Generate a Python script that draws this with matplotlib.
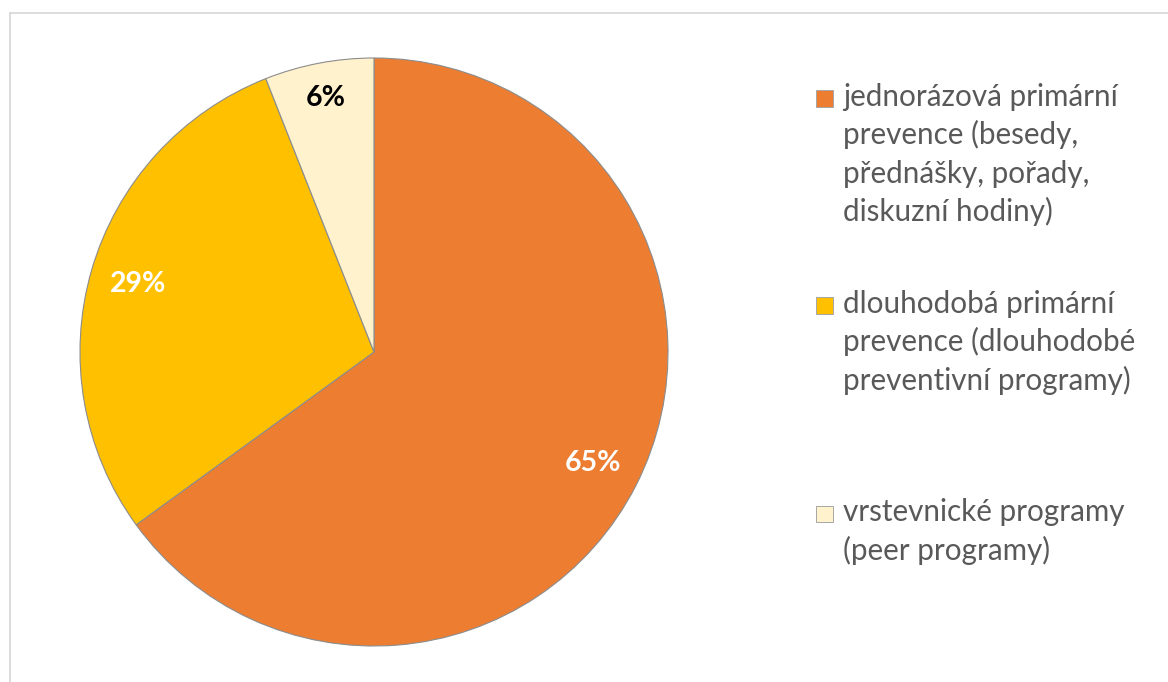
## pie chart of prevention program types, share in percent

import matplotlib
matplotlib.use("Agg")
from matplotlib import pyplot as plt
from matplotlib.patches import Rectangle
from matplotlib.lines import Line2D

## data
labels = ["jednorázová primární\nprevence (besedy,\npřednášky, pořady,\ndiskuzní hodiny)",
          "dlouhodobá primární\nprevence (dlouhodobé\npreventivní programy)",
          "vrstevnické programy\n(peer programy)"]
values = [65, 29, 6]
colors = ["#ED7D31", "#FFC000", "#FFF2CC"]
pct_colors = ["white", "white", "black"]

W, H = 1168, 682
plt.rcParams['font.family'] = ['Lato', 'DejaVu Sans']

fig = plt.figure(figsize=(W / 100, H / 100), dpi=100)

## light grey chart frame (top and left edges visible)
fig.add_artist(Line2D([9.5 / W, 9.5 / W], [0, 1 - 12.5 / H], transform=fig.transFigure,
                      color="#D9D9D9", lw=1.3))
fig.add_artist(Line2D([9.5 / W, 1], [1 - 12.5 / H, 1 - 12.5 / H], transform=fig.transFigure,
                      color="#D9D9D9", lw=1.3))

## pie: centre (374, 352) px, radius 294 px
cx, cy, r = 374, 352, 294
ax = fig.add_axes([(cx - r) / W, 1 - (cy + r) / H, 2 * r / W, 2 * r / H])
wedges, texts, autotexts = ax.pie(values, colors=colors, startangle=90, counterclock=False,
                                  autopct="%d%%", pctdistance=0.835,
                                  wedgeprops=dict(edgecolor="#8C8C8C", linewidth=0.8))
for t, c in zip(autotexts, pct_colors):
    t.set_color(c)
    t.set_fontsize(20.5)
    t.set_fontweight("bold")
## small slice label sits a bit further out
x, y = autotexts[2].get_position()
autotexts[2].set_position((x * 0.88 / 0.835, y * 0.88 / 0.835))
ax.set_xlim(-1, 1)
ax.set_ylim(-1, 1)
ax.set_aspect("equal")

## legend drawn by hand (uneven spacing in the original)
baselines = [106, 313, 521.5]
step = 38.3
for lab, col, b in zip(labels, colors, baselines):
    fig.add_artist(Rectangle((816 / W, 1 - (b + 0.5) / H), 16.5 / W, 16.5 / H,
                             transform=fig.transFigure, facecolor=col,
                             edgecolor="#A6A6A6", linewidth=0.7))
    for i, line in enumerate(lab.split("\n")):
        fig.text(843 / W, 1 - (b + i * step) / H, line, fontsize=21.3, color="#595959",
                 va="baseline", ha="left")

fig.savefig("out.png", dpi=100)
